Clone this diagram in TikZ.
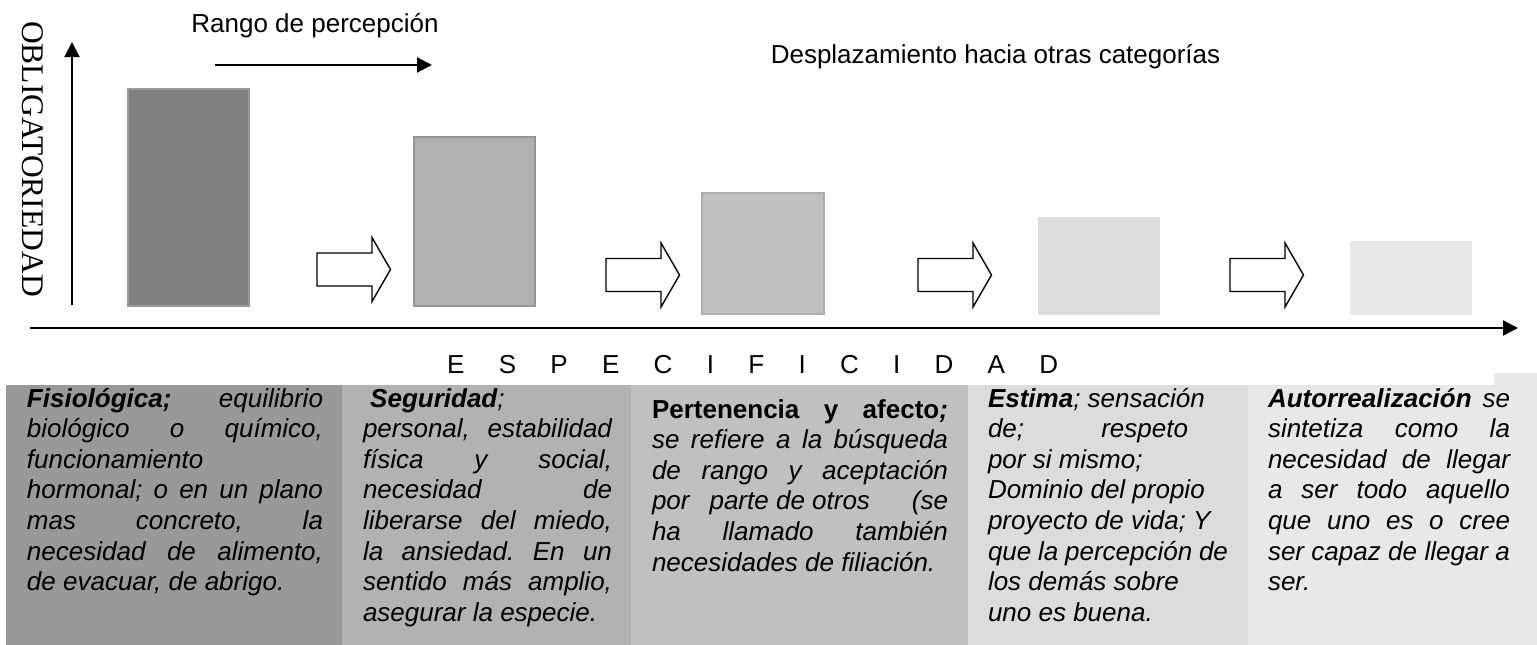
\documentclass[tikz,border=0pt]{standalone}
\usepackage{fontspec}
\setmainfont{Liberation Sans}
\newfontfamily\serifobl{Liberation Serif}
\usetikzlibrary{arrows.meta}
\frenchspacing
\definecolor{barA}{HTML}{808080}
\definecolor{barB}{HTML}{B0B0B0}
\definecolor{barC}{HTML}{C0C0C0}
\definecolor{barD}{HTML}{DCDCDC}
\definecolor{barE}{HTML}{E8E8E8}
\definecolor{panA}{HTML}{999999}
\definecolor{panB}{HTML}{B2B2B2}
\definecolor{panC}{HTML}{C0C0C0}
\definecolor{panD}{HTML}{DCDCDC}
\definecolor{panE}{HTML}{E8E8E8}
\newcommand\jl[1]{\hbox to\linewidth{\spaceskip=0.278em plus 1fil\xspaceskip=\spaceskip\relax #1}}
\newcommand\lline[1]{\hbox to\linewidth{#1\hfil}}
\newcommand\ptext[2]{\parbox[t]{#1}{\fontsize{26}{30.6}\selectfont\itshape\frenchspacing #2}}
\def\lsp{\hskip 34.3pt }
\tikzset{
  x=1pt, y=-1pt,
  bar/.style={inner sep=0pt, outer sep=0pt, line width=1.2pt},
  axis/.style={line width=2pt, -{Triangle[length=15pt,width=15pt]}},
  blockarrow/.style={draw=black, line width=1.4pt, fill=white, line join=miter},
  ptxt/.style={anchor=base west, inner sep=0pt, outer sep=0pt},
  label/.style={inner sep=0pt, font=\fontsize{26}{30}\selectfont},
  barrow/.pic={\draw[blockarrow] (0,-16.5) -- (55,-16.5) -- (55,-32) -- (73.5,0) -- (55,32) -- (55,16.5) -- (0,16.5) -- cycle;}
}
\begin{document}
\begin{tikzpicture}
\useasboundingbox[fill=white] (0,0) rectangle (1537,645);
% bottom panels
\fill[panA] (6,385) rectangle (342,645);
\fill[panB] (342,385) rectangle (631,645);
\fill[panC] (631,385) rectangle (968,645);
\fill[panD] (968,385) rectangle (1248,645);
\fill[panE] (1248,385) rectangle (1537,645);
\fill[panE] (1494,373) rectangle (1537,385);
% bars
\node[bar, fill=barA, draw=panA, minimum width=121pt, minimum height=217pt] (b1) at (188.5,197.5) {};
\node[bar, fill=barB, draw=barB!85!black, minimum width=121pt, minimum height=169pt] (b2) at (474.5,221.5) {};
\node[bar, fill=barC, draw=barC!90!black, minimum width=122pt, minimum height=121pt] (b3) at (763,253.5) {};
\node[bar, fill=barD, minimum width=122pt, minimum height=98pt] (b4) at (1099,266) {};
\node[bar, fill=barE, minimum width=122pt, minimum height=74pt] (b5) at (1411,278) {};
% block arrows
\pic at (317,269.5) {barrow};
\pic at (606,275) {barrow};
\pic at (918,275) {barrow};
\pic at (1230,275) {barrow};
% axes
\coordinate (yb) at (72,305);
\coordinate (yt) at (72,42);
\draw[axis] (yb) -- (yt);
\coordinate (xb) at (30,328);
\coordinate (xt) at (1518,328);
\draw[axis, line width=2.5pt] (xb) -- (xt);
\coordinate (rs) at (215,65);
\coordinate (re) at (432,65);
\draw[axis] (rs) -- (re);
% labels
\node[rotate=-90, inner sep=0pt, font=\serifobl\fontsize{31.5}{32}\selectfont] (obl) at (33,159) {OBLIGATORIEDAD};
\node[label, anchor=base] (rango) at (315,32) {Rango de percepción};
\node[label, anchor=base] (despl) at (995.5,63) {Desplazamiento hacia otras categorías};
\node[label, anchor=base west] (esp) at (447,373) {E\lsp S\lsp P\lsp E\lsp C\lsp I\lsp F\lsp I\lsp C\lsp I\lsp D\lsp A\lsp D};
% panel texts
\node[ptxt] (t1) at (27,407) {\ptext{296pt}{%
\lline{\textbf{Fisiológica;}\hfill equilibrio}
\jl{biológico o químico,}
\lline{funcionamiento}
\jl{hormonal; o en un plano}
\jl{mas concreto, la}
\jl{necesidad de alimento,}
\lline{de evacuar, de abrigo.}}};
\node[ptxt] (t2) at (363,407) {\ptext{249pt}{%
\lline{\ \textbf{Seguridad};}
\jl{personal, estabilidad}
\jl{física y social,}
\jl{necesidad de}
\jl{liberarse del miedo,}
\jl{la ansiedad. En un}
\jl{sentido más amplio,}
\lline{asegurar la especie.}}};
\node[ptxt] (t3) at (652,418) {\ptext{296pt}{%
\jl{\textbf{\upshape Pertenencia y afecto}\textbf{;}}
\jl{se refiere a la búsqueda}
\jl{de rango y aceptación}
\lline{por\hspace{20pt}parte de otros\hfill(se}
\jl{ha llamado también}
\lline{necesidades de filiación.}}};
\node[ptxt] (t4) at (988,407) {\ptext{240pt}{%
\lline{\textbf{Estima}; sensación}
\lline{de;\hfill respeto\hspace{40pt}}
\lline{por si mismo;}
\lline{Dominio del propio}
\lline{proyecto de vida; Y}
\lline{que la percepción de}
\lline{los demás sobre}
\lline{uno es buena.}}};
\node[ptxt] (t5) at (1268,407) {\ptext{242pt}{%
\jl{\textbf{Autorrealización} se}
\jl{sintetiza como la}
\jl{necesidad de llegar}
\jl{a ser todo aquello}
\jl{que uno es o cree}
\jl{ser capaz de llegar a}
\lline{ser.}}};
\end{tikzpicture}
\end{document}
